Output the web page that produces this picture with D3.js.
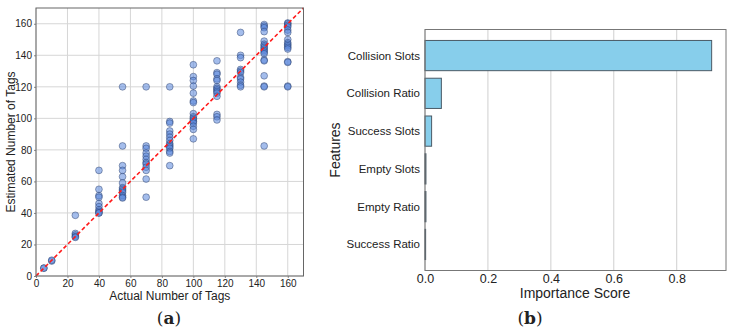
<!DOCTYPE html>
<html>
<head>
<meta charset="utf-8">
<script src="https://cdn.jsdelivr.net/npm/d3@7"></script>
<style>
  body { margin: 0; background: #fff; }
  text { font-family: "Liberation Sans", Arial, sans-serif; fill: #222; }
  .cap { font-family: "DejaVu Serif", "Liberation Serif", serif; font-size: 17px; }
</style>
</head>
<body>
<svg id="chart" width="734" height="334"></svg>
<script>
// actual number of tags (x) and the estimates (y)
var actualTags = [5, 10, 25, 40, 55, 70, 85, 100, 115, 130, 145, 160];
var estimatedTags = [
  [5, 5],
  [9.5, 10],
  [38.5, 27, 26, 25, 24.5],
  [67, 55, 51, 50, 46, 44, 42, 41, 40, 40],
  [120, 82.5, 70, 67, 63, 59, 56, 55, 54, 53, 51, 50, 49.5],
  [120, 82.5, 81, 78, 76, 74, 72, 71, 69, 67, 61.5, 50],
  [120, 98, 97, 92, 90, 88, 86, 84, 83, 82, 81, 79, 78, 70],
  [134, 126.5, 124, 120.5, 116, 111, 110, 103, 101, 100, 99, 98, 97, 95, 93, 87],
  [136.5, 129, 128, 125, 124, 120, 119, 118, 117, 116, 114, 102.5, 101, 99],
  [154.5, 140, 138.5, 131, 130, 129, 126, 125, 123, 121, 120],
  [159.5, 158.5, 157.5, 155, 149, 147, 146, 145, 144, 143, 142, 141, 137, 136.5, 127, 120.5, 120, 82.5],
  [160.5, 160, 159, 158, 156, 154.5, 150, 148, 147, 146, 145, 144, 136, 135.5, 120.5, 120]
];
var scatterTicks = [0, 20, 40, 60, 80, 100, 120, 140, 160];

// feature importances, listed top to bottom as drawn
var features = ["Collision Slots", "Collision Ratio", "Success Slots", "Empty Slots", "Empty Ratio", "Success Ratio"];
var importance = [0.911, 0.052, 0.021, 0.003, 0.003, 0.002];
var importanceTicks = [0, 0.2, 0.4, 0.6, 0.8];

var svg = d3.select("#chart");

// ---------- (a) scatter ----------
var a = { left: 36, right: 303.5, top: 8, bottom: 276 };
var x = d3.scaleLinear().domain([0, 170]).range([a.left, a.right]);
var y = d3.scaleLinear().domain([0, 170]).range([a.bottom, a.top]);

var ga = svg.append("g");

// grid
ga.append("g").selectAll("line").data(scatterTicks).enter().append("line")
  .attr("x1", function(d) { return x(d); }).attr("x2", function(d) { return x(d); })
  .attr("y1", a.top).attr("y2", a.bottom)
  .attr("stroke", "#d6d6d6").attr("stroke-width", 1);
ga.append("g").selectAll("line").data(scatterTicks).enter().append("line")
  .attr("y1", function(d) { return y(d); }).attr("y2", function(d) { return y(d); })
  .attr("x1", a.left).attr("x2", a.right)
  .attr("stroke", "#d6d6d6").attr("stroke-width", 1);

// points
var pts = [];
actualTags.forEach(function(v, i) {
  estimatedTags[i].forEach(function(e) { pts.push({ a: v, e: e }); });
});
ga.append("g").selectAll("circle").data(pts).enter().append("circle")
  .attr("cx", function(d) { return x(d.a); })
  .attr("cy", function(d) { return y(d.e); })
  .attr("r", 3.4)
  .attr("fill", "#5a86dc").attr("fill-opacity", 0.55)
  .attr("stroke", "#1c2f5c").attr("stroke-opacity", 0.6).attr("stroke-width", 0.7);

// ideal line
ga.append("line")
  .attr("x1", x(0)).attr("y1", y(0)).attr("x2", x(170)).attr("y2", y(170))
  .attr("stroke", "#ff1a1a").attr("stroke-width", 1.6).attr("stroke-dasharray", "4,2.5");

// axes
var xa = ga.append("g").attr("transform", "translate(0," + a.bottom + ")")
  .call(d3.axisBottom(x).tickValues(scatterTicks).tickSize(2).tickPadding(1.5));
var ya = ga.append("g").attr("transform", "translate(" + a.left + ",0)")
  .call(d3.axisLeft(y).tickValues(scatterTicks).tickSize(2).tickPadding(2));
[xa, ya].forEach(function(g) {
  g.select(".domain").remove();
  g.selectAll(".tick line").attr("stroke", "#888");
  g.selectAll(".tick text").style("font-size", "10px").attr("fill", "#333");
});

ga.append("rect")
  .attr("x", a.left).attr("y", a.top)
  .attr("width", a.right - a.left).attr("height", a.bottom - a.top)
  .attr("fill", "none").attr("stroke", "#666").attr("stroke-width", 1);

ga.append("text").attr("x", (a.left + a.right) / 2).attr("y", 300)
  .attr("text-anchor", "middle").style("font-size", "12px").text("Actual Number of Tags");
ga.append("text").attr("transform", "translate(15," + (a.top + a.bottom) / 2 + ") rotate(-90)")
  .attr("text-anchor", "middle").style("font-size", "12px").text("Estimated Number of Tags");

// ---------- (b) feature importance ----------
var b = { left: 425, right: 726, top: 29.5, bottom: 270.5 };
var bx = d3.scaleLinear().domain([0, 0.9566]).range([b.left, b.right]);
// category positions like matplotlib barh: bars 0.8 wide, 5% margins
var by = d3.scaleLinear().domain([-0.69, features.length - 1 + 0.69]).range([b.top, b.bottom]);

var gb = svg.append("g");

gb.append("g").selectAll("line").data(importanceTicks).enter().append("line")
  .attr("x1", function(d) { return bx(d); }).attr("x2", function(d) { return bx(d); })
  .attr("y1", b.top).attr("y2", b.bottom)
  .attr("stroke", "#cfcfcf").attr("stroke-width", 1);

gb.append("g").selectAll("rect").data(features).enter().append("rect")
  .attr("x", bx(0))
  .attr("y", function(d, i) { return by(i - 0.4); })
  .attr("width", function(d, i) { return bx(importance[i]) - bx(0); })
  .attr("height", by(0.4) - by(-0.4))
  .attr("fill", "#87ceeb").attr("stroke", "#4a5a66").attr("stroke-width", 1);

gb.append("g").selectAll("text").data(features).enter().append("text")
  .attr("x", b.left - 5).attr("y", function(d, i) { return by(i); })
  .attr("dy", "0.35em").attr("text-anchor", "end")
  .style("font-size", "11.5px").text(function(d) { return d; });

var bxa = gb.append("g").attr("transform", "translate(0," + b.bottom + ")")
  .call(d3.axisBottom(bx).tickValues(importanceTicks).tickFormat(d3.format(".1f")).tickSize(0).tickPadding(4));
bxa.select(".domain").remove();
bxa.selectAll(".tick text").style("font-size", "12.5px").attr("fill", "#222");

gb.append("rect")
  .attr("x", b.left).attr("y", b.top)
  .attr("width", b.right - b.left).attr("height", b.bottom - b.top)
  .attr("fill", "none").attr("stroke", "#777").attr("stroke-width", 1);

gb.append("text").attr("x", 575).attr("y", 298)
  .attr("text-anchor", "middle").style("font-size", "14px").text("Importance Score");
gb.append("text").attr("transform", "translate(340," + (b.top + b.bottom) / 2 + ") rotate(-90)")
  .attr("text-anchor", "middle").style("font-size", "14px").text("Features");

// captions
svg.append("text").attr("class", "cap").attr("x", 169).attr("y", 324).attr("text-anchor", "middle")
  .html('(<tspan font-weight="bold">a</tspan>)');
svg.append("text").attr("class", "cap").attr("x", 530).attr("y", 324).attr("text-anchor", "middle")
  .html('(<tspan font-weight="bold">b</tspan>)');
</script>
</body>
</html>
